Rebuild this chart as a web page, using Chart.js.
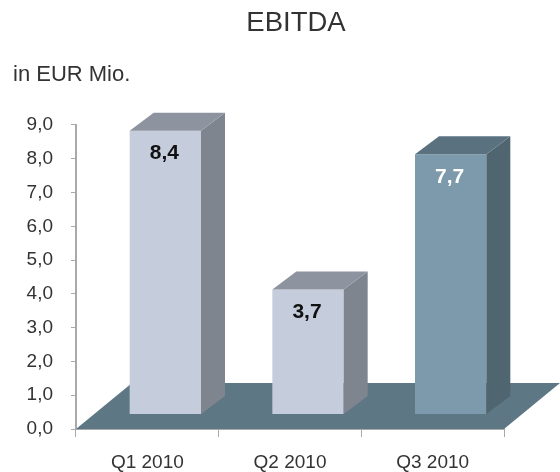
<!DOCTYPE html>
<html><head><meta charset="utf-8">
<style>html,body{margin:0;padding:0;background:#fff}canvas{display:block}</style>
<script src="https://cdn.jsdelivr.net/npm/chart.js@4/dist/chart.umd.js"></script>
</head><body><canvas id="c" width="560" height="472"></canvas>
<script>
const categories = ['Q1 2010', 'Q2 2010', 'Q3 2010'];
const values = [8.4, 3.7, 7.7];
const titleText = 'EBITDA';
const unitText = 'in EUR Mio.';
const frontColors = ['#c5cddc', '#c5cddc', '#7d9aad'];
const sideColors = ['#7f858f', '#7f858f', '#4f6670'];
const topColors = ['#8d939f', '#8d939f', '#5a7280'];
const labelColors = ['#111111', '#111111', '#ffffff'];
const floorColor = '#5e7785';
const axisColor = '#a9a9a9';
const textColor = '#333333';
const fontName = '"Liberation Sans", Arial, sans-serif';
const shift = {x: 18, y: 14.5};
const depth = {x: 24, y: 18};
const floorBack = {x: 56, y: 46};
const fmt = v => Number(v).toFixed(1).replace('.', ',');

const bars3d = {
  id: 'bars3d',
  afterLayout(chart) {
    for (const b of chart.boxes) {
      if (b.options && b.options.text === titleText) { b.left += 44; b.right += 44; }
      if (b.options && b.options.text === unitText) { b.left = 13; }
    }
  },
  beforeDatasetsDraw(chart) {
    const {ctx, scales: {x, y}} = chart;
    const y0 = y.getPixelForValue(0);
    ctx.save();
    ctx.fillStyle = floorColor;
    ctx.beginPath();
    ctx.moveTo(x.left, y0);
    ctx.lineTo(x.right, y0);
    ctx.lineTo(x.right + floorBack.x, y0 - floorBack.y);
    ctx.lineTo(x.left + floorBack.x, y0 - floorBack.y);
    ctx.closePath();
    ctx.fill();
    ctx.restore();
  },
  beforeDatasetDraw(chart) {
    chart.ctx.save();
    chart.ctx.translate(shift.x, -shift.y);
  },
  afterDatasetDraw(chart, args) {
    const ctx = chart.ctx;
    const meta = chart.getDatasetMeta(args.index);
    meta.data.forEach((bar, i) => {
      const l = bar.x - bar.width / 2, r = bar.x + bar.width / 2, t = bar.y, b = bar.base;
      ctx.fillStyle = sideColors[i];
      ctx.beginPath();
      ctx.moveTo(r, t); ctx.lineTo(r + depth.x, t - depth.y);
      ctx.lineTo(r + depth.x, b - depth.y); ctx.lineTo(r, b);
      ctx.closePath(); ctx.fill();
      ctx.fillStyle = topColors[i];
      ctx.beginPath();
      ctx.moveTo(l, t); ctx.lineTo(l + depth.x, t - depth.y);
      ctx.lineTo(r + depth.x, t - depth.y); ctx.lineTo(r, t);
      ctx.closePath(); ctx.fill();
      ctx.fillStyle = labelColors[i];
      ctx.font = 'bold 21px ' + fontName;
      ctx.textAlign = 'center';
      ctx.textBaseline = 'middle';
      ctx.fillText(fmt(values[i]), bar.x - 1, t + 23);
    });
    ctx.restore();
  }
};

new Chart(document.getElementById('c'), {
  type: 'bar',
  plugins: [bars3d],
  data: {
    labels: categories,
    datasets: [{
      data: values,
      backgroundColor: frontColors,
      borderWidth: 0,
      barPercentage: 0.5,
      categoryPercentage: 1
    }]
  },
  options: {
    responsive: false,
    animation: false,
    devicePixelRatio: 1,
    layout: {padding: {top: 0, left: 0, right: 56, bottom: 0}},
    plugins: {
      legend: {display: false},
      tooltip: {enabled: false},
      title: {
        display: true, text: titleText, color: textColor, fullSize: true,
        font: {family: fontName, size: 27.5, weight: 'normal', lineHeight: 1.2},
        padding: {top: 7, bottom: 0}
      },
      subtitle: {
        display: true, text: unitText, color: textColor, align: 'start', fullSize: true,
        font: {family: fontName, size: 22, weight: 'normal', lineHeight: 1.2},
        padding: {top: 22, bottom: 36.5}
      }
    },
    scales: {
      x: {
        z: 1,
        grid: {display: true, offset: true, drawOnChartArea: false, drawTicks: true, tickLength: 8, color: axisColor, lineWidth: 1},
        border: {display: true, color: axisColor, width: 2},
        ticks: {color: textColor, padding: 14, maxRotation: 0, font: {family: fontName, size: 19}},
        afterFit(s) { s.height = 43; }
      },
      y: {
        min: 0, max: 9,
        grid: {display: true, drawOnChartArea: false, drawTicks: true, tickLength: 5, color: axisColor, lineWidth: 1},
        border: {display: true, color: axisColor, width: 2},
        ticks: {stepSize: 1, color: textColor, padding: 18, font: {family: fontName, size: 19}, callback: v => fmt(v)},
        afterFit(s) { s.width = 76; }
      }
    }
  }
});
</script></body></html>
